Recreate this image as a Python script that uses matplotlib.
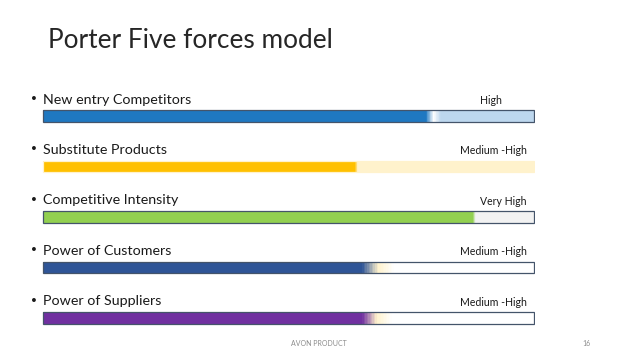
import numpy as np
import matplotlib
matplotlib.use("Agg")
import matplotlib.pyplot as plt
from matplotlib.colors import to_rgb

plt.rcParams['font.family'] = ['Lato', 'DejaVu Sans']

# data
forces = ['New entry Competitors', 'Substitute Products', 'Competitive Intensity',
          'Power of Customers', 'Power of Suppliers']
levels = [0.78, 0.635, 0.875, 0.65, 0.65]
level_labels = ['High', 'Medium -High', 'Very High', 'Medium -High', 'Medium -High']

# style
fill_colors = ['#1F78C1', '#FFC000', '#92D050', '#2F5597', '#7030A0']
back_colors = ['#BDD7EE', '#FFF2CC', '#F2F2F2', '#FFFFFF', '#FFFFFF']
fade_mid = ['#FFFFFF', '#FFF2CC', '#F2F2F2', '#FFF2CC', '#FFF2CC']
fade_width = [0.03, 0.012, 0.012, 0.065, 0.06]
edge_colors = ['#44546A', '#FFF2CC', '#44546A', '#44546A', '#44546A']
label_right = [0.935, 0.985, 0.985, 0.985, 0.985]

fig = plt.figure(figsize=(6.38, 3.59), dpi=100)
ax = fig.add_axes([42 / 638, 1 - 343 / 359, 493 / 638, 252 / 359])
ax.set_xlim(-0.002, 1.002)
ax.set_ylim(4.5, -0.5)
ax.axis('off')

h = 0.23
for i, (v, fc, bc) in enumerate(zip(levels, fill_colors, back_colors)):
    ax.barh(i, 1, height=h, color=bc, linewidth=0, zorder=1)
    ax.barh(i, v, height=h, color=fc, linewidth=0, zorder=2)
    # soft gradient at the end of the filled part
    n = 20
    c0 = np.array(to_rgb(fc))
    c1 = np.array(to_rgb(fade_mid[i]))
    c2 = np.array(to_rgb(bc))
    w = fade_width[i] / n
    for k in range(n):
        t = (k + 0.5) / n
        if t < 0.5:
            c = c0 + (c1 - c0) * (t / 0.5)
        else:
            c = c1 + (c2 - c1) * ((t - 0.5) / 0.5)
        ax.barh(i, w * 1.05, left=v + k * w, height=h, color=c, linewidth=0, zorder=3)
    ax.barh(i, 1, height=h, fill=False, edgecolor=edge_colors[i], linewidth=0.9, zorder=4)
    ax.text(0, i - 0.33, forces[i], fontsize=10.3, color='#1a1a1a', va='center', ha='left')
    ax.text(-0.026, i - 0.33, '\u2022', fontsize=9.5, color='#1a1a1a', va='center', ha='left',
            family=['DejaVu Sans'])
    ax.text(label_right[i], i - 0.31, level_labels[i], fontsize=7.6, color='#1a1a1a',
            va='center', ha='right')

fig.text(48 / 638, 1 - 41 / 359, 'Porter Five forces model', fontsize=18.9, color='#262626',
         va='center', ha='left')
fig.text(319 / 638, 1 - 343 / 359, 'AVON PRODUCT', fontsize=5, color='#8c8c8c',
         va='center', ha='center')
fig.text(586 / 638, 1 - 343 / 359, '16', fontsize=5, color='#8c8c8c', va='center', ha='center')

fig.savefig('out.png', dpi=100, facecolor='white')
